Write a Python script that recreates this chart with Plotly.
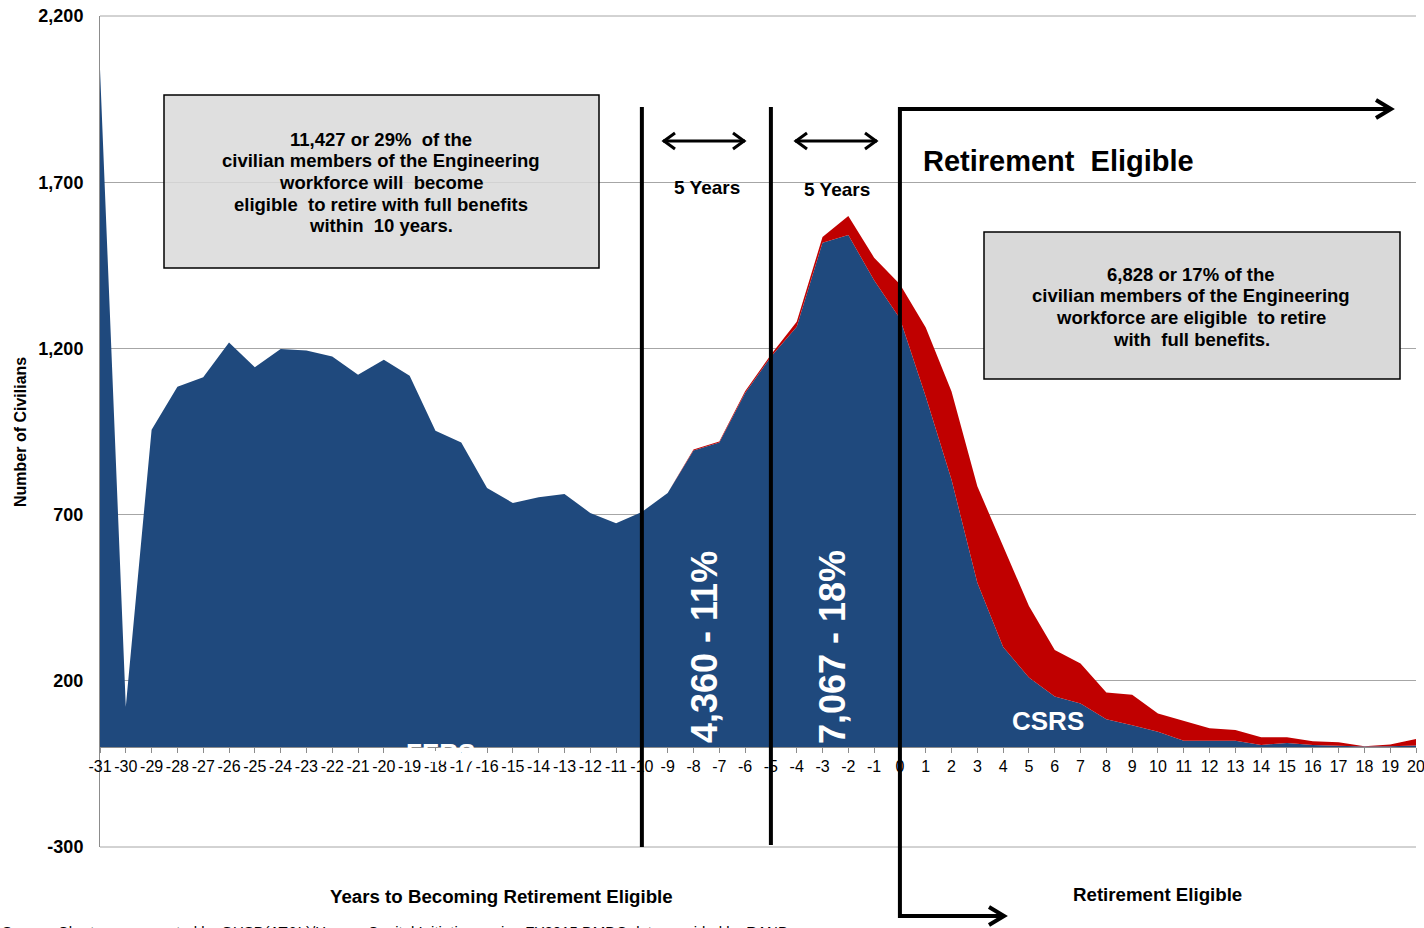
import plotly.graph_objects as go

# Years until an employee becomes eligible for full retirement benefits
years = list(range(-31, 21))

# Civilians per year bucket, by retirement system (stacked)
fers = [2040, 122, 955, 1085, 1113, 1218, 1143, 1198, 1194, 1176, 1121, 1166,
        1118, 952, 917, 780, 735, 752, 762, 705, 674,
        708, 765, 893, 917, 1066, 1175, 1265, 1518, 1541, 1405,
        1290, 1055, 805, 495, 302, 210, 153, 132, 84, 66, 47, 20, 20, 20,
        7, 13, 7, 5, 2, 3, 5]
csrs = [0] * 21 + [
        0, 0, 3, 3, 5, 6, 15, 17, 57, 68,
        103, 208, 265, 290, 303, 215, 140, 120, 81, 92, 55, 59, 37, 32,
        23, 17, 11, 10, 1, 5, 20]

y_ticks = [-300, 200, 700, 1200, 1700, 2200]
Y_MIN, Y_MAX = -300, 2200
X_MIN, X_MAX = years[0], years[-1]

W, H = 1424, 928
ML, MR, MT, MB = 100, 8, 16, 81
FONT = "Liberation Sans, Arial, sans-serif"
BLUE = "#1f497d"
RED = "#c00000"
GRID = "#a6a6a6"


def px(xp):
    """page pixel x -> paper x"""
    return (xp - ML) / (W - ML - MR)


def py(yp):
    """page pixel y -> paper y"""
    return (H - MB - yp) / (H - MT - MB)


def xv(v):
    """data x -> paper x"""
    return (v - X_MIN) / (X_MAX - X_MIN)


fig = go.Figure()
fig.add_trace(go.Scatter(x=years, y=fers, name="FERS", mode="lines",
                         stackgroup="ret", line=dict(width=0, color=BLUE),
                         fillcolor=BLUE, hoverinfo="x+y"))
fig.add_trace(go.Scatter(x=years, y=csrs, name="CSRS", mode="lines",
                         stackgroup="ret", line=dict(width=0, color=RED),
                         fillcolor=RED, hoverinfo="x+y"))

shapes = []
BLACK = dict(color="black", width=4)

# gridlines on the range ends (plotly skips them)
for yy in (0, 1):
    shapes.append(dict(type="line", xref="paper", yref="paper", x0=0, x1=1,
                       y0=yy, y1=yy, line=dict(color=GRID, width=1), layer="below"))

# milestone lines at -10 and -5 years
shapes.append(dict(type="line", xref="paper", yref="paper", x0=xv(-10), x1=xv(-10),
                   y0=py(847), y1=py(107), line=BLACK))
shapes.append(dict(type="line", xref="paper", yref="paper", x0=xv(-5), x1=xv(-5),
                   y0=py(845), y1=py(107), line=BLACK))


def path(points):
    return "M " + " L ".join(f"{px(a):.5f},{py(b):.5f}" for a, b in points)


x0p = ML + xv(0) * (W - ML - MR)
# retirement-eligible bracket with arrows
shapes.append(dict(type="path", xref="paper", yref="paper",
                   path=path([(1390, 109), (x0p, 109), (x0p, 916), (1003, 916)]),
                   line=BLACK))
shapes.append(dict(type="path", xref="paper", yref="paper",
                   path=path([(1376, 100), (1391, 109), (1376, 118)]), line=BLACK))
shapes.append(dict(type="path", xref="paper", yref="paper",
                   path=path([(989, 907), (1004, 916), (989, 925)]), line=BLACK))

# "5 Years" double arrows
THIN = dict(color="black", width=3)
for a, b in [(663, 745), (795, 877)]:
    shapes.append(dict(type="path", xref="paper", yref="paper",
                       path=path([(a, 141), (b, 141)]), line=THIN))
    shapes.append(dict(type="path", xref="paper", yref="paper",
                       path=path([(a + 12, 133), (a + 1, 141), (a + 12, 149)]), line=THIN))
    shapes.append(dict(type="path", xref="paper", yref="paper",
                       path=path([(b - 12, 133), (b - 1, 141), (b - 12, 149)]), line=THIN))

# callout boxes
shapes.append(dict(type="rect", xref="paper", yref="paper",
                   x0=px(164), x1=px(599), y0=py(268), y1=py(95),
                   fillcolor="rgba(217,217,217,0.85)", line=dict(color="black", width=1.5),
                   layer="above"))
shapes.append(dict(type="rect", xref="paper", yref="paper",
                   x0=px(984), x1=px(1400), y0=py(379), y1=py(232),
                   fillcolor="#d9d9d9", line=dict(color="black", width=1.5),
                   layer="above"))

ann = []


def text(xp, yp, t, size, color="black", bold=True, xanchor="center",
         angle=0, yanchor="middle"):
    ann.append(dict(x=px(xp), y=py(yp), xref="paper", yref="paper", text=t,
                    showarrow=False, xanchor=xanchor, yanchor=yanchor,
                    textangle=angle,
                    font=dict(family=FONT, size=size, color=color,
                              weight="bold" if bold else "normal")))


box1_lines = ["11,427 or 29%  of the", "civilian members of the Engineering",
              "workforce will  become", "eligible  to retire with full benefits",
              "within  10 years."]
for i, line in enumerate(box1_lines):
    text(381, 139 + i * 21.7, line, 18.5)

box2_lines = ["6,828 or 17% of the", "civilian members of the Engineering",
              "workforce are eligible  to retire", "with  full benefits."]
for i, line in enumerate(box2_lines):
    text(1191, 274 + i * 21.7, line, 18.5)

text(707, 187, "5 Years", 19)
text(837, 189, "5 Years", 19)
text(921, 161, "Retirement  Eligible", 29, xanchor="left")
text(501, 897, "Years to Becoming Retirement Eligible", 18.7)
text(1157, 894, "Retirement Eligible", 18.7)
text(21, 432, "Number of Civilians", 16, angle=-90)
text(704, 647, "4,360 - 11%", 36, color="white", angle=-90)
text(832, 647, "7,067 - 18%", 36, color="white", angle=-90)
text(1048, 721, "CSRS", 26, color="white")
text(441, 753, "FERS", 26, color="white")
text(0, 921, "Source: Chart was generated by OUSD(AT&amp;L)/Human Capital Initiatives "
     "using FY2015 DMDC data provided by RAND.", 15, bold=False,
     xanchor="left", yanchor="top")

fig.update_layout(
    width=W, height=H,
    margin=dict(l=ML, r=MR, t=MT, b=MB, pad=0, autoexpand=False),
    paper_bgcolor="white", plot_bgcolor="white",
    showlegend=False,
    font=dict(family=FONT, color="black"),
    shapes=shapes, annotations=ann,
    xaxis=dict(range=[X_MIN, X_MAX], tickmode="array", tickvals=years,
               ticktext=[str(y) for y in years],
               ticks="outside", ticklen=5, tickcolor="#8c8c8c",
               showline=True, linecolor="#8c8c8c", linewidth=1,
               showgrid=False, zeroline=False, automargin=False,
               anchor="free", position=(0 - Y_MIN) / (Y_MAX - Y_MIN),
               tickfont=dict(size=16, family=FONT, color="black"),
               ticklabeloverflow="allow",
               ticklabelstandoff=0, fixedrange=True),
    yaxis=dict(range=[Y_MIN, Y_MAX], tickmode="array", tickvals=y_ticks,
               ticktext=[f"{v:,}" for v in y_ticks], ticks="",
               showgrid=True, gridcolor=GRID, gridwidth=1,
               showline=True, linecolor="#8c8c8c", linewidth=1,
               zeroline=False, automargin=False,
               tickfont=dict(size=18, family=FONT, color="black", weight="bold"),
               ticklabelstandoff=12, fixedrange=True),
)

fig.write_html("out.html")
